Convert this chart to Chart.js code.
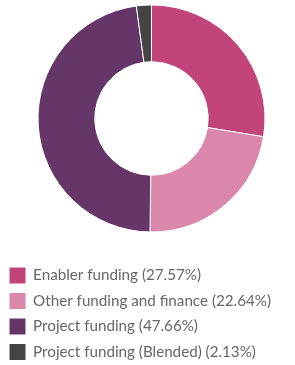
<!DOCTYPE html>
<html>
<head>
<meta charset="utf-8">
<script src="https://cdn.jsdelivr.net/npm/chart.js@4.4.1/dist/chart.umd.min.js"></script>
<style>
    html, body { margin: 0; padding: 0; background: #fff; overflow: hidden; }
    #fundingChart { display: block; }
</style>
</head>
<body>
<canvas id="fundingChart" width="303" height="370"></canvas>

<script>
    const labels = ['Enabler funding', 'Other funding and finance', 'Project funding', 'Project funding (Blended)'];
    const shares = [27.57, 22.64, 47.66, 2.13];
    const colors = ['#c1447b', '#d987aa', '#663668', '#444444'];

    const ctx = document.getElementById('fundingChart').getContext('2d');
    new Chart(ctx, {
        type: 'doughnut',
        data: {
            labels: labels,
            datasets: [{
                data: shares,
                backgroundColor: colors,
                borderColor: '#ffffff',
                borderWidth: 1,
                radius: 113.5,
                cutout: '50%'
            }]
        },
        options: {
            responsive: false,
            animation: false,
            plugins: {
                tooltip: { enabled: false },
                legend: {
                    position: 'bottom',
                    align: 'start',
                    // empty title only pushes the rows down
                    title: {
                        display: true,
                        text: '',
                        font: { size: 10, lineHeight: 1 },
                        padding: { top: 11, bottom: 0 }
                    },
                    labels: {
                        boxWidth: 16,
                        boxHeight: 16,
                        padding: 9.5,
                        color: '#333333',
                        font: { family: 'Lato', size: 15.2 },
                        generateLabels: function (chart) {
                            const ds = chart.data.datasets[0];
                            return chart.data.labels.map((label, i) => ({
                                text: label + ' (' + ds.data[i].toFixed(2) + '%)',
                                fillStyle: ds.backgroundColor[i],
                                strokeStyle: ds.backgroundColor[i],
                                lineWidth: 0,
                                index: i
                            }));
                        }
                    }
                }
            }
        }
    });
</script>
</body>
</html>
